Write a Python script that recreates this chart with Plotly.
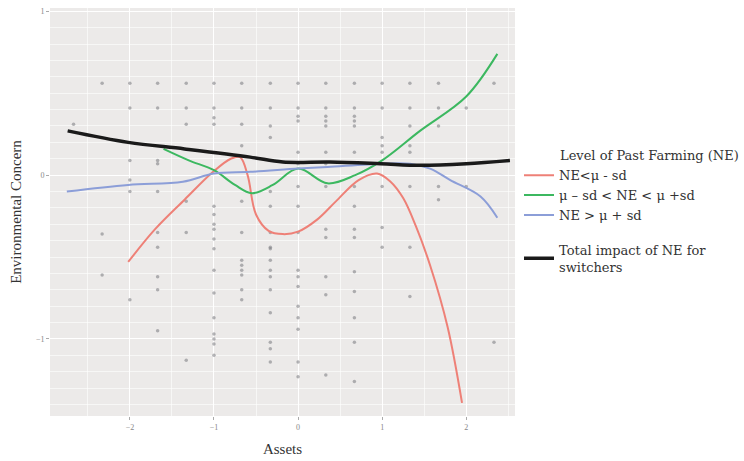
import plotly.graph_objects as go

# ---------------- data ----------------
scatter_cols = {
    -2.67: [0.31],
    -2.33: [0.56, -0.36, -0.61],
    -2.0: [0.56, 0.41, 0.09, -0.03, -0.10, -0.76],
    -1.67: [0.56, 0.41, 0.09, 0.07, -0.10, -0.35, -0.44, -0.62, -0.70, -0.95],
    -1.33: [0.56, 0.41, 0.31, -0.16, -0.35, -1.13],
    -1.0: [0.56, 0.41, 0.35, 0.31, -0.19, -0.24, -0.30, -0.33, -0.39, -0.45, -0.58, -0.72, -0.87, -0.97, -1.0, -1.03, -1.10],
    -0.67: [0.56, 0.41, 0.31, 0.18, -0.16, -0.35, -0.52, -0.55, -0.58, -0.61, -0.70, -0.76],
    -0.33: [0.56, 0.41, 0.30, 0.23, -0.10, -0.19, -0.35, -0.44, -0.45, -0.52, -0.58, -0.62, -0.70, -0.84, -1.02, -1.06, -1.14],
    0.0: [0.56, 0.41, 0.36, 0.33, 0.14, 0.07, -0.07, -0.19, -0.35, -0.58, -0.62, -0.68, -0.80, -0.87, -0.94, -1.14, -1.23],
    0.33: [0.56, 0.41, 0.36, 0.33, 0.30, 0.14, 0.07, -0.07, -0.33, -0.38, -0.62, -0.73, -1.22],
    0.67: [0.56, 0.41, 0.36, 0.33, 0.30, 0.14, -0.07, -0.19, -0.33, -0.38, -0.59, -0.71, -0.87, -1.02, -1.26],
    1.0: [0.56, 0.41, 0.23, 0.18, 0.14, -0.07, -0.32, -0.44],
    1.33: [0.56, 0.41, 0.30, 0.18, 0.14, -0.07, -0.44, -0.74],
    1.67: [0.56, 0.41, 0.30, -0.07, -0.15],
    2.0: [0.41, -0.07],
    2.33: [0.56, -1.02],
}
scatter_x = [x for x, ys in scatter_cols.items() for _ in ys]
scatter_y = [y for ys in scatter_cols.values() for y in ys]

red_x = [-2.02, -1.7, -1.35, -1.01, -0.8, -0.69, -0.6, -0.5, -0.35, -0.18, 0.0, 0.23, 0.45, 0.72, 0.94, 1.1, 1.25, 1.4, 1.57, 1.78, 1.95]
red_y = [-0.53, -0.33, -0.15, 0.02, 0.10, 0.11, 0.0, -0.24, -0.34, -0.36, -0.345, -0.27, -0.16, -0.03, 0.01, -0.04, -0.14, -0.31, -0.55, -0.93, -1.39]

green_x = [-1.6, -1.3, -1.0, -0.75, -0.55, -0.3, 0.0, 0.35, 0.68, 1.0, 1.45, 2.0, 2.37]
green_y = [0.16, 0.09, 0.03, -0.06, -0.11, -0.06, 0.04, -0.05, 0.0, 0.09, 0.27, 0.48, 0.74]

blue_x = [-2.75, -2.02, -1.37, -1.0, -0.57, 0.0, 0.35, 1.0, 1.33, 1.57, 1.81, 2.17, 2.37]
blue_y = [-0.10, -0.06, -0.04, 0.01, 0.02, 0.04, 0.05, 0.07, 0.07, 0.04, -0.03, -0.13, -0.26]

black_x = [-2.74, -2.02, -1.35, -0.57, -0.18, 0.38, 0.98, 1.45, 2.0, 2.52]
black_y = [0.27, 0.20, 0.16, 0.11, 0.08, 0.08, 0.07, 0.06, 0.07, 0.09]

x_ticks = [-2, -1, 0, 1, 2]
y_ticks = [-1, 0, 1]

legend_title = "Level of Past Farming (NE)"

# ---------------- figure ----------------
FONT = "Liberation Serif"
LFONT = "DejaVu Serif"
fig = go.Figure()

fig.add_trace(go.Scatter(
    x=scatter_x, y=scatter_y, mode="markers", showlegend=False,
    marker=dict(size=3.5, color="rgba(120,120,125,0.55)"), hoverinfo="skip"))

fig.add_trace(go.Scatter(x=red_x, y=red_y, mode="lines", line_shape="spline",
                         line=dict(color="#EE8077", width=2), name="NE<μ - sd",
                         legendgroup="a"))
fig.add_trace(go.Scatter(x=green_x, y=green_y, mode="lines", line_shape="spline",
                         line=dict(color="#3CB860", width=2), name="μ – sd < NE < μ +sd",
                         legendgroup="a"))
fig.add_trace(go.Scatter(x=blue_x, y=blue_y, mode="lines", line_shape="spline",
                         line=dict(color="#8C9ED8", width=2), name="NE > μ + sd",
                         legendgroup="a"))
fig.add_trace(go.Scatter(x=black_x, y=black_y, mode="lines", line_shape="spline",
                         line=dict(color="#1a1a1a", width=3.5),
                         name="Total impact of NE for<br>switchers", legendgroup="b"))

axis_common = dict(
    showgrid=True, gridcolor="white", gridwidth=1.2,
    minor=dict(showgrid=True, gridcolor="rgba(255,255,255,0.6)", gridwidth=0.6),
    zeroline=False, showline=False,
    ticks="outside", ticklen=3, tickcolor="#aaaaaa",
    tickfont=dict(family=FONT, size=8, color="#888888"),
)

fig.update_layout(
    width=744, height=461,
    margin=dict(l=50, r=229, t=7, b=44),
    paper_bgcolor="white", plot_bgcolor="#ECEAE9",
    font=dict(family=FONT, size=14, color="#333333"),
    xaxis=dict(range=[-2.95, 2.58], tickvals=x_ticks,
               title=dict(text="Assets", font=dict(family=FONT, size=15, color="#333333"), standoff=12),
               **axis_common),
    yaxis=dict(range=[-1.47, 1.02], tickvals=y_ticks,
               title=dict(text="Environmental Concern", font=dict(family=FONT, size=15, color="#333333"), standoff=10),
               **axis_common),
    legend=dict(
        x=(519 - 50) / 465, y=(417 - 160) / 410, xanchor="left", yanchor="top",
        font=dict(family=LFONT, size=13, color="#333333"),
        traceorder="grouped", tracegroupgap=15, itemwidth=30,
        bgcolor="rgba(0,0,0,0)",
    ),
    annotations=[dict(
        text=legend_title, xref="paper", yref="paper",
        x=(558 - 50) / 465, y=(417 - 155) / 410, xanchor="left", yanchor="middle",
        showarrow=False, font=dict(family=LFONT, size=13, color="#333333"))],
)

fig.write_html("out.html")
